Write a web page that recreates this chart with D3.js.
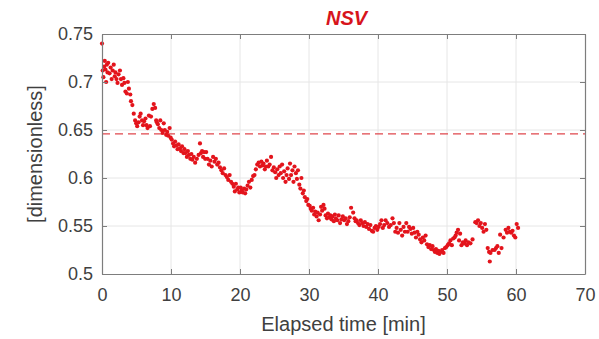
<!DOCTYPE html>
<html><head><meta charset="utf-8">
<script src="https://cdn.jsdelivr.net/npm/d3@7"></script>
<style>body{margin:0;background:#fff}svg{display:block}text{font-family:"Liberation Sans",Arial,sans-serif}</style>
</head><body>
<svg id="c" width="599" height="339"></svg>
<script>
const title = "NSV";
const xLabel = "Elapsed time [min]";
const yLabel = "[dimensionless]";
const xTicks = [0,10,20,30,40,50,60,70];
const yTicks = [0.5,0.55,0.6,0.65,0.7,0.75];
const threshold = 0.646;
// [time (min), value]
const points = [
[0,0.740],[0.1,0.712],[0.2,0.705],[0.3,0.716],[0.4,0.722],[0.5,0.713],[0.6,0.700],[0.7,0.718],[0.8,0.710],[0.9,0.720],
[1.1,0.709],[1.25,0.715],[1.4,0.703],[1.55,0.712],[1.7,0.718],[1.85,0.706],[1.95,0.710],
[2.1,0.703],[2.25,0.699],[2.4,0.708],[2.6,0.712],[2.75,0.703],[2.9,0.697],
[3.1,0.704],[3.25,0.699],[3.4,0.690],[3.6,0.688],[3.75,0.700],[3.9,0.693],
[4.1,0.687],[4.2,0.680],[4.4,0.676],[4.6,0.667],[4.8,0.660],[4.95,0.657],
[5.1,0.654],[5.3,0.658],[5.45,0.664],[5.6,0.667],[5.8,0.660],[5.95,0.655],
[6.1,0.659],[6.3,0.662],[6.45,0.655],[6.6,0.652],[6.8,0.665],[6.95,0.654],
[7.1,0.664],[7.3,0.672],[7.5,0.677],[7.7,0.673],[7.85,0.660],[7.95,0.658],
[8.1,0.656],[8.3,0.652],[8.45,0.660],[8.6,0.650],[8.8,0.647],[8.95,0.657],
[9.1,0.650],[9.3,0.645],[9.45,0.648],[9.6,0.644],[9.8,0.652],[9.95,0.642],
[10.1,0.640],[10.3,0.636],[10.45,0.633],[10.6,0.638],[10.8,0.634],[10.95,0.630],
[11.1,0.635],[11.3,0.631],[11.45,0.628],[11.6,0.633],[11.8,0.626],[11.95,0.630],
[12.1,0.626],[12.3,0.622],[12.45,0.628],[12.6,0.624],[12.8,0.620],[12.95,0.625],
[13.1,0.619],[13.3,0.622],[13.5,0.616],[13.75,0.620],[14.2,0.636],[14.0,0.624],
[14.35,0.626],[14.5,0.628],[14.65,0.622],[14.8,0.627],[14.95,0.620],
[15.1,0.627],[15.3,0.620],[15.5,0.614],[15.7,0.618],[15.9,0.612],
[16.1,0.622],[16.3,0.617],[16.5,0.620],[16.7,0.614],[16.9,0.616],
[17.1,0.611],[17.3,0.608],[17.5,0.605],[17.7,0.610],[17.9,0.603],
[18.1,0.601],[18.3,0.598],[18.5,0.603],[18.7,0.596],[18.9,0.594],
[19.1,0.591],[19.25,0.586],[19.4,0.594],[19.6,0.588],[19.75,0.590],[19.9,0.585],
[20.1,0.590],[20.25,0.587],[20.4,0.585],[20.6,0.589],[20.75,0.584],[20.9,0.588],
[21.1,0.592],[21.3,0.596],[21.5,0.590],[21.7,0.598],[21.9,0.602],
[22.1,0.603],[22.3,0.609],[22.5,0.614],[22.7,0.616],[22.9,0.612],
[23.1,0.617],[23.25,0.613],[23.4,0.615],[23.6,0.609],[23.75,0.612],[23.9,0.618],
[24.1,0.612],[24.5,0.622],[24.3,0.614],[24.7,0.608],[24.9,0.611],
[25.1,0.606],[25.25,0.600],[25.4,0.609],[25.6,0.603],[25.75,0.612],[25.9,0.605],
[26.1,0.614],[26.25,0.600],[26.4,0.607],[26.6,0.596],[26.75,0.603],[26.9,0.610],
[27.1,0.599],[27.25,0.615],[27.4,0.603],[27.6,0.608],[27.75,0.596],[27.9,0.612],
[28.1,0.605],[28.25,0.599],[28.4,0.608],[28.6,0.593],[28.75,0.589],[28.9,0.600],
[29.1,0.584],[29.25,0.587],[29.4,0.580],[29.6,0.576],[29.75,0.578],[29.9,0.572],
[30.1,0.571],[30.25,0.568],[30.4,0.566],[30.6,0.569],[30.75,0.562],[30.9,0.565],
[31.1,0.560],[31.25,0.564],[31.4,0.556],[31.6,0.562],[31.75,0.570],[31.9,0.566],
[32.1,0.572],[32.25,0.568],[32.4,0.561],[32.6,0.558],[32.75,0.563],[32.9,0.559],
[33.1,0.561],[33.25,0.557],[33.4,0.560],[33.6,0.555],[33.75,0.562],[33.9,0.558],
[34.1,0.556],[34.3,0.561],[34.5,0.553],[34.7,0.557],[34.9,0.560],
[35.1,0.556],[35.3,0.558],[35.5,0.552],[35.7,0.555],[35.9,0.559],
[36.1,0.569],[36.4,0.564],[36.6,0.558],[36.75,0.555],[36.9,0.556],
[37.1,0.553],[37.3,0.551],[37.5,0.556],[37.7,0.553],[37.9,0.550],
[38.1,0.554],[38.3,0.549],[38.5,0.552],[38.7,0.547],[38.9,0.551],
[39.1,0.545],[39.3,0.544],[39.5,0.548],[39.7,0.550],[39.9,0.546],
[40.1,0.549],[40.3,0.552],[40.5,0.556],[40.7,0.548],[40.9,0.551],
[41.1,0.556],[41.35,0.553],[41.6,0.549],[41.85,0.551],
[42.1,0.558],[42.3,0.553],[42.5,0.544],[42.7,0.548],[42.9,0.543],
[43.1,0.553],[43.3,0.546],[43.5,0.540],[43.7,0.549],[43.9,0.544],
[44.1,0.553],[44.3,0.544],[44.5,0.549],[44.7,0.547],[44.9,0.542],
[45.1,0.548],[45.3,0.543],[45.5,0.538],[45.7,0.544],[45.9,0.541],
[46.1,0.536],[46.3,0.533],[46.5,0.538],[46.7,0.535],[46.9,0.540],
[47.1,0.531],[47.3,0.528],[47.5,0.530],[47.7,0.526],[47.9,0.529],
[48.1,0.525],[48.25,0.523],[48.4,0.526],[48.6,0.522],[48.75,0.524],[48.9,0.521],
[49.1,0.523],[49.3,0.525],[49.5,0.522],[49.7,0.527],[49.9,0.528],
[50.1,0.530],[50.3,0.532],[50.5,0.535],[50.7,0.530],[50.9,0.537],
[51.1,0.538],[51.25,0.540],[51.4,0.543],[51.6,0.546],[51.75,0.535],[51.9,0.542],
[52.1,0.530],[52.3,0.533],[52.5,0.532],[52.7,0.535],[52.9,0.530],
[53.1,0.533],[53.4,0.532],[53.7,0.536],
[54.1,0.554],[54.3,0.553],[54.5,0.556],[54.7,0.550],[54.9,0.553],
[55.1,0.548],[55.3,0.544],[55.5,0.552],[55.7,0.546],
[55.9,0.527],[56.1,0.523],[56.3,0.522],[56.2,0.513],[56.6,0.525],
[56.9,0.525],[57.1,0.527],[57.3,0.529],[57.5,0.522],[57.7,0.541],[57.9,0.527],
[58.2,0.538],[58.5,0.546],[58.7,0.543],[58.9,0.548],
[59.1,0.544],[59.3,0.543],[59.5,0.545],[59.7,0.540],[59.9,0.538],
[60.1,0.552],[60.3,0.548]
];

const svg = d3.select("#c");
const m = {l:102, r:585, t:34, b:274};
const x = d3.scaleLinear().domain([0,70]).range([m.l, m.r]);
const y = d3.scaleLinear().domain([0.5,0.75]).range([m.b, m.t]);
const axisColor = "#7d7d7d", textColor = "#404040";

// grid
const g = svg.append("g");
g.selectAll(".gx").data(xTicks.slice(1,-1)).join("line")
  .attr("x1",d=>x(d)).attr("x2",d=>x(d)).attr("y1",m.t).attr("y2",m.b)
  .attr("stroke","#e6e6e6").attr("stroke-width",1);
g.selectAll(".gy").data(yTicks.slice(1,-1)).join("line")
  .attr("y1",d=>y(d)).attr("y2",d=>y(d)).attr("x1",m.l).attr("x2",m.r)
  .attr("stroke","#e6e6e6").attr("stroke-width",1);

// threshold dashed line
svg.append("line").attr("x1",m.l).attr("x2",m.r)
  .attr("y1",y(threshold)).attr("y2",y(threshold))
  .attr("stroke","#e0474c").attr("stroke-width",1.3).attr("stroke-dasharray","8,5");

// points
svg.append("g").selectAll("circle").data(points).join("circle")
  .attr("cx",d=>x(d[0])).attr("cy",d=>y(d[1])).attr("r",2.1)
  .attr("fill","#e3141c");

// axes
const fmtY = d => d3.format("")(+d.toFixed(2));
const xb = svg.append("g").attr("transform",`translate(0,${m.b})`)
  .call(d3.axisBottom(x).tickValues(xTicks).tickSizeInner(-5).tickSizeOuter(0).tickPadding(14));
const xt = svg.append("g").attr("transform",`translate(0,${m.t})`)
  .call(d3.axisTop(x).tickValues(xTicks).tickSizeInner(-5).tickSizeOuter(0).tickFormat(""));
const yl = svg.append("g").attr("transform",`translate(${m.l},0)`)
  .call(d3.axisLeft(y).tickValues(yTicks).tickSizeInner(-5).tickSizeOuter(0).tickPadding(9).tickFormat(fmtY));
const yr = svg.append("g").attr("transform",`translate(${m.r},0)`)
  .call(d3.axisRight(y).tickValues(yTicks).tickSizeInner(-5).tickSizeOuter(0).tickFormat(""));
[xb,xt,yl,yr].forEach(a=>{
  a.select(".domain").attr("stroke",axisColor).attr("stroke-width",1.2);
  a.selectAll(".tick line").attr("stroke",axisColor);
  a.selectAll("text").attr("fill",textColor).style("font-size","18px")
   .style("font-family",'"Liberation Sans",Arial,sans-serif');
});

svg.append("text").attr("x",(m.l+m.r)/2).attr("y",331).attr("text-anchor","middle")
  .attr("fill",textColor).style("font-size","20px").text(xLabel);
svg.append("text").attr("transform",`translate(42,${(m.t+m.b)/2}) rotate(-90)`)
  .attr("text-anchor","middle").attr("fill",textColor).style("font-size","20px").text(yLabel);
svg.append("text").attr("x",(m.l+m.r)/2+3).attr("y",25).attr("text-anchor","middle")
  .attr("fill","#d7141c").style("font-size","20px").style("font-weight","bold").style("font-style","italic").text(title);
</script>
</body></html>
